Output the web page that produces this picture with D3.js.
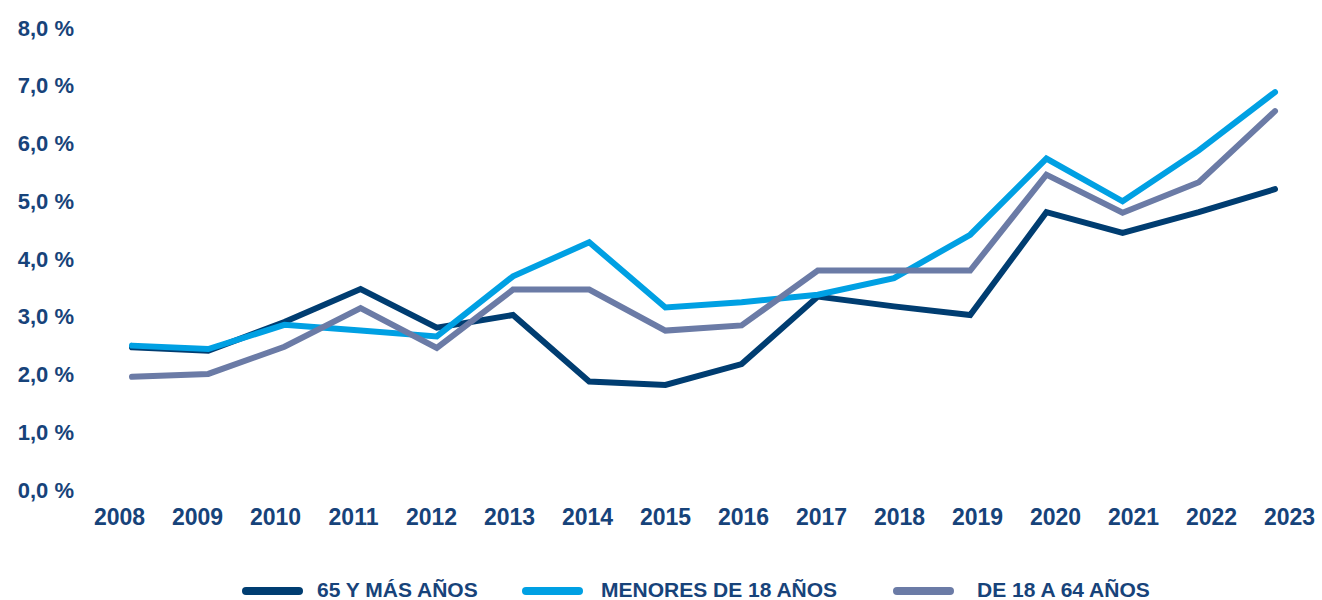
<!DOCTYPE html>
<html>
<head>
<meta charset="utf-8">
<script src="https://cdn.jsdelivr.net/npm/d3@7"></script>
<style>
  html, body { margin: 0; padding: 0; background: #fff; }
  svg { display: block; font-family: "Liberation Sans", Arial, sans-serif; font-weight: bold; }
</style>
</head>
<body>
<svg id="chart" width="1322" height="600"></svg>
<script>
const years = ["2008","2009","2010","2011","2012","2013","2014","2015","2016","2017","2018","2019","2020","2021","2022","2023"];
const yTicks = [0, 1, 2, 3, 4, 5, 6, 7, 8];
const seriesNames = ["65 Y MÁS AÑOS", "MENORES DE 18 AÑOS", "DE 18 A 64 AÑOS"];
const mayores65 = [2.47, 2.41, 2.91, 3.48, 2.81, 3.03, 1.88, 1.82, 2.18, 3.35, 3.18, 3.03, 4.81, 4.45, 4.81, 5.21];
const menores18 = [2.50, 2.44, 2.86, 2.76, 2.66, 3.70, 4.29, 3.16, 3.25, 3.38, 3.67, 4.42, 5.74, 5.00, 5.88, 6.89];
const de18a64  = [1.96, 2.01, 2.48, 3.15, 2.46, 3.47, 3.47, 2.76, 2.85, 3.80, 3.80, 3.80, 5.46, 4.80, 5.33, 6.56];
const colors = ["#003d71", "#00a0e3", "#6b7ba6"];
const textColor = "#17437a";

const svg = d3.select("#chart");

const y = d3.scaleLinear().domain([0, 8]).range([490, 28]);
const xLine = d3.scalePoint().domain(years).range([132, 1275]);
const xLabel = d3.scalePoint().domain(years).range([119, 1289]);

// Y axis labels
const yAxis = d3.axisLeft(y).tickValues(yTicks).tickSize(0).tickPadding(0)
  .tickFormat(d => d3.format(".1f")(d).replace(".", ",") + " %");
const gy = svg.append("g").attr("transform", "translate(74,0)").call(yAxis);
gy.select(".domain").remove();
gy.selectAll("text").attr("fill", textColor).style("font-size", "22px").style("font-weight", "bold")
  .style("font-family", "'Liberation Sans', Arial, sans-serif");

// X axis labels
const xAxis = d3.axisBottom(xLabel).tickSize(0).tickPadding(0);
const gx = svg.append("g").attr("transform", "translate(0,509)").call(xAxis);
gx.select(".domain").remove();
gx.selectAll("text").attr("fill", textColor).style("font-size", "23px").style("font-weight", "bold")
  .style("font-family", "'Liberation Sans', Arial, sans-serif");

// Lines
const allSeries = [mayores65, menores18, de18a64];
const line = d3.line().x((d, i) => xLine(years[i])).y(d => y(d));
svg.append("g").selectAll("path").data(allSeries).join("path")
  .attr("d", d => line(d))
  .attr("fill", "none")
  .attr("stroke", (d, i) => colors[i])
  .attr("stroke-width", 6)
  .attr("stroke-linejoin", "miter")
  .attr("stroke-linecap", "round");

// Legend
const legendX = [242, 522, 893];
const legendTextX = [317, 601, 977];
const lg = svg.append("g");
seriesNames.forEach((name, i) => {
  lg.append("line")
    .attr("x1", legendX[i] + 4).attr("x2", legendX[i] + 57)
    .attr("y1", 591).attr("y2", 591)
    .attr("stroke", colors[i]).attr("stroke-width", 8).attr("stroke-linecap", "round");
  lg.append("text")
    .attr("x", legendTextX[i]).attr("y", 597)
    .attr("fill", textColor)
    .style("font-size", "21px")
    .text(name);
});
</script>
</body>
</html>
